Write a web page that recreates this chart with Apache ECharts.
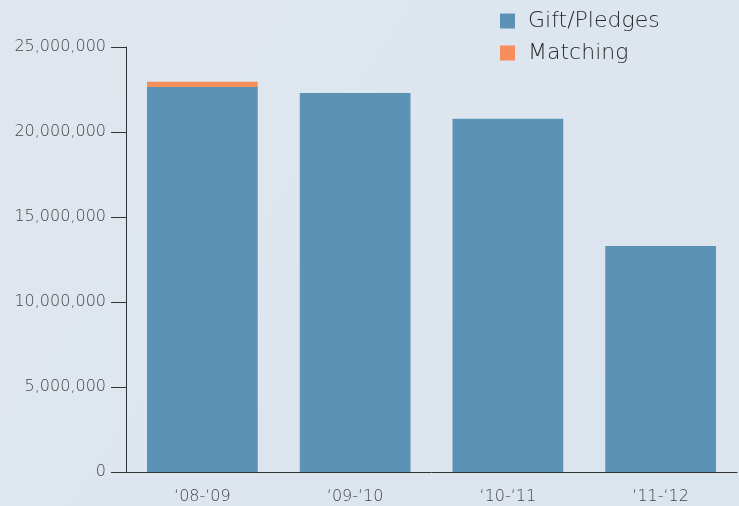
<!DOCTYPE html>
<html>
<head>
<meta charset="utf-8">
<script src="https://cdn.jsdelivr.net/npm/echarts@6/dist/echarts.min.js"></script>
<style>
  html, body { margin: 0; padding: 0; }
  #chart { width: 739px; height: 506px; }
</style>
</head>
<body>
<div id="chart"></div>
<script>
// values
const years = ['\u201808-\u201809', '\u201809-\u201810', '\u201810-\u201811', '\u201811-\u201812']
const giftPledges = [22650000, 22300000, 20780000, 13300000]
const matching = [300000, 0, 0, 0]

const font = 'DejaVu Sans'

const chart = echarts.init(document.getElementById('chart'))
chart.setOption({
  backgroundColor: new echarts.graphic.LinearGradient(0, 0, 1, 1, [
    { offset: 0, color: '#dfe6ee' },
    { offset: 1, color: '#dbe5ee' }
  ]),
  animation: false,
  textStyle: { fontFamily: font },
  legend: {
    orient: 'vertical',
    left: 495,
    top: 5,
    itemWidth: 15,
    itemHeight: 15,
    itemGap: 10,
    icon: 'rect',
    textStyle: {
      fontSize: 22, lineHeight: 22, color: '#2a2a2a',
      fontFamily: font, fontWeight: 200, padding: [0, 0, 0, 8]
    },
    data: ['Gift/Pledges', 'Matching']
  },
  grid: { left: 126, right: 2, top: 47, bottom: 34 },
  xAxis: {
    type: 'category',
    data: years,
    axisLine: { lineStyle: { color: '#333', width: 1 } },
    axisTick: { length: 11, lineStyle: { color: '#333' } },
    axisLabel: { color: '#444', fontSize: 16, fontWeight: 200, margin: 17 }
  },
  yAxis: {
    type: 'value',
    min: 0,
    max: 25000000,
    interval: 5000000,
    axisLine: { show: true, lineStyle: { color: '#333', width: 1 } },
    axisTick: { show: true, length: 15, lineStyle: { color: '#333' } },
    splitLine: { show: false },
    axisLabel: {
      color: '#444',
      fontSize: 16,
      fontWeight: 200,
      margin: 20,
      formatter: (v) => v.toLocaleString('en-US')
    }
  },
  series: [{
    name: 'Gift/Pledges',
    type: 'bar',
    stack: 'total',
    barWidth: '72.5%',
    itemStyle: { color: '#5d92b7' },
    data: giftPledges
  }, {
    name: 'Matching',
    type: 'bar',
    stack: 'total',
    itemStyle: { color: '#f68d5a' },
    data: matching
  }]
})
</script>
</body>
</html>
